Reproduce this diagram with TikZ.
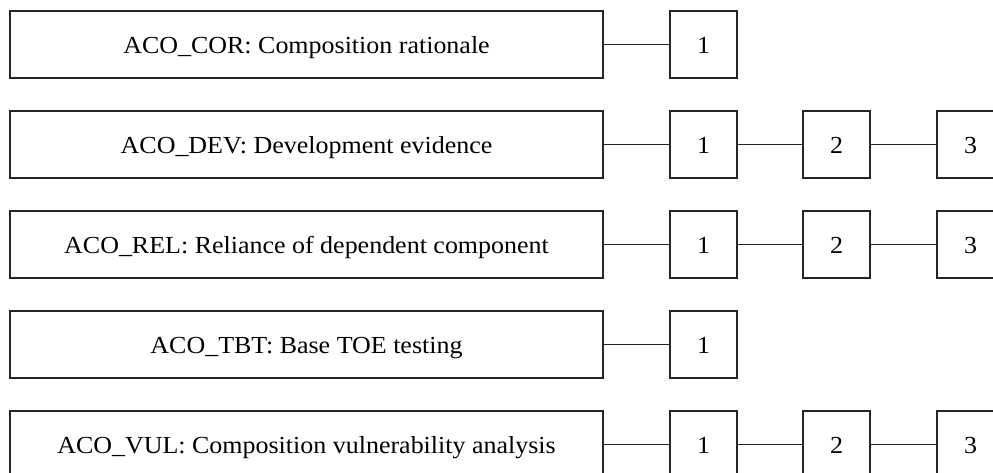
\documentclass[tikz,border=0pt]{standalone}
\usepackage{fontspec}
\setmainfont{Liberation Serif}[FakeStretch=1.06]
\begin{document}
\begin{tikzpicture}[x=1pt,y=1pt,
  boxbase/.style={draw=black!85,line width=1.2pt,rectangle,inner sep=0pt,minimum height=67pt,text height=17.6pt,text depth=0pt,font=\fontsize{24.5}{28}\selectfont,text=black},
  bigbox/.style={boxbase,minimum width=593pt},
  numbox/.style={boxbase,minimum width=67pt},
  link/.style={draw=black!85,line width=1.2pt}]
\useasboundingbox (0,0) rectangle (993,-472);
\clip (0,0) rectangle (993,-472);
% row 1
\node[bigbox] (cor) at (306.5,-44.5) {ACO\_COR: Composition rationale};
\node[numbox] (cor1) at (703.5,-44.5) {1};
\draw[link] (cor) -- (cor1);
% row 2
\node[bigbox] (dev) at (306.5,-144.5) {ACO\_DEV: Development evidence};
\node[numbox] (dev1) at (703.5,-144.5) {1};
\node[numbox] (dev2) at (836.5,-144.5) {2};
\node[numbox] (dev3) at (970.5,-144.5) {3};
\draw[link] (dev) -- (dev1);
\draw[link] (dev1) -- (dev2);
\draw[link] (dev2) -- (dev3);
% row 3
\node[bigbox] (rel) at (306.5,-244.5) {ACO\_REL: Reliance of dependent component};
\node[numbox] (rel1) at (703.5,-244.5) {1};
\node[numbox] (rel2) at (836.5,-244.5) {2};
\node[numbox] (rel3) at (970.5,-244.5) {3};
\draw[link] (rel) -- (rel1);
\draw[link] (rel1) -- (rel2);
\draw[link] (rel2) -- (rel3);
% row 4
\node[bigbox] (tbt) at (306.5,-344.5) {ACO\_TBT: Base TOE testing};
\node[numbox] (tbt1) at (703.5,-344.5) {1};
\draw[link] (tbt) -- (tbt1);
% row 5
\node[bigbox] (vul) at (306.5,-444.5) {ACO\_VUL: Composition vulnerability analysis};
\node[numbox] (vul1) at (703.5,-444.5) {1};
\node[numbox] (vul2) at (836.5,-444.5) {2};
\node[numbox] (vul3) at (970.5,-444.5) {3};
\draw[link] (vul) -- (vul1);
\draw[link] (vul1) -- (vul2);
\draw[link] (vul2) -- (vul3);
\end{tikzpicture}
\end{document}
